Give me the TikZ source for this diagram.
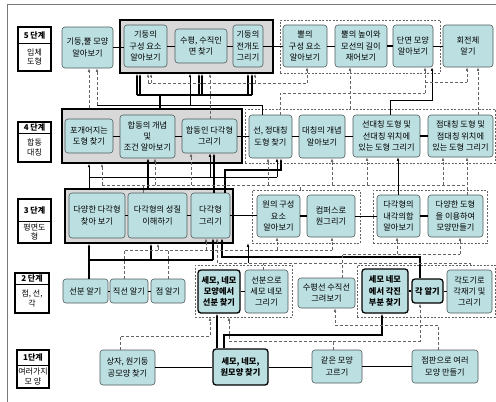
\documentclass[tikz,border=0pt]{standalone}
\usepackage{fontspec}
\setmainfont{Noto Sans CJK KR}
\usetikzlibrary{arrows.meta}
\definecolor{tealfill}{RGB}{188,224,226}
\definecolor{nodeline}{RGB}{80,90,90}
\definecolor{grpfill}{RGB}{216,216,216}
\definecolor{dashline}{RGB}{100,100,100}
\definecolor{frameline}{RGB}{120,120,120}
\newcommand\mybox[7]{%
  \pgfmathsetmacro\cx{(#3+#5)/2}\pgfmathsetmacro\cy{(#4+#6)/2}%
  \pgfmathsetmacro\ww{#5-#3}\pgfmathsetmacro\hh{#6-#4}%
  \node[#1, minimum width=\ww pt, minimum height=\hh pt] (#2) at (\cx,\cy) {#7};}
\tikzset{
  nd/.style={draw=nodeline, fill=tealfill, rounded corners=3pt, line width=0.6pt, align=center, inner sep=0pt, font=\fontsize{8.2}{11.3}\selectfont},
  ndk/.style={nd, draw=black, line width=1.3pt, font=\fontsize{8.2}{11.3}\selectfont\bfseries},
  grp/.style={draw=black, fill=grpfill, line width=1.4pt, inner sep=0pt},
  dgrp/.style={draw=dashline, line width=0.6pt, dash pattern=on 2pt off 1.5pt, inner sep=0pt},
  stg/.style={draw=black, line width=1.5pt, fill=white, inner sep=0pt},
  stxt/.style={align=center, inner sep=0pt, font=\fontsize{8}{9.5}\selectfont},
  link/.style={draw=black, line width=0.6pt},
  tlink/.style={draw=black, line width=1.4pt},
  dlink/.style={draw=dashline, line width=0.6pt, dash pattern=on 3pt off 2pt},
  arr/.style={-{Latex[length=3.5pt,width=2.6pt]}, line width=0.6pt},
  tarr/.style={arr, line width=1.3pt},
  darr/.style={arr, dash pattern=on 3pt off 2pt, draw=dashline},
}
\begin{document}
\begin{tikzpicture}[x=1pt,y=-1pt]
\useasboundingbox (0,0) rectangle (496,402);
\draw[frameline, line width=0.8pt] (7,402) -- (7,4) -- (496,4);

% stage labels
\foreach \n/\ya/\yd/\yb/\xa/\xb/\ta/\tb in {
  5/27/43/71/18/51/{5 단계}/{입체\\도형},
  4/122/133/162/18/51/{4 단계}/{합동\\대칭},
  3/199/221/243/18/51/{3 단계}/{평면도\\형},
  2/273/284/313/15/49/{2 단계}/{점, 선,\\각},
  1/350/365/388/17/49/{1단계}/{여러가지\\모 양}}{
  \mybox{stg}{s\n}{\xa}{\ya}{\xb}{\yb}{}
  \draw[line width=1pt] (\xa,\yd) -- (\xb,\yd);
  \node[stxt, font=\fontsize{8}{9.5}\selectfont\bfseries] (s\n t) at ({(\xa+\xb)/2},{(\ya+\yd)/2}) {\ta};
  \node[stxt] (s\n b) at ({(\xa+\xb)/2},{(\yd+\yb)/2}) {\tb};
}

% groups
\mybox{grp}{g5}{120}{20}{273}{73}{}
\mybox{dgrp}{d5}{280}{20}{440}{73}{}
\mybox{grp}{g4}{62}{109}{242}{163}{}
\mybox{dgrp}{d4}{245}{109}{495}{163}{}
\mybox{grp}{g3}{65}{189}{233}{243}{}
\mybox{dgrp}{d3a}{252}{190}{360}{243}{}
\mybox{dgrp}{d3b}{373}{190}{487}{243}{}
\mybox{dgrp}{d2a}{195}{265}{292}{317}{}
\mybox{dgrp}{d2b}{357}{265}{495}{317}{}

% row 5
\mybox{nd}{a5a}{62}{27}{113}{68}{기둥,뿔 모양\\알아보기}
\mybox{nd}{a5b}{124}{25}{167}{67}{기둥의\\구성 요소\\알아보기}
\mybox{nd}{a5c}{175}{29}{227}{63}{수평, 수직인\\면 찾기}
\mybox{nd}{a5d}{233}{25}{263}{67}{기둥의\\전개도\\그리기}
\mybox{nd}{a5e}{283}{25}{327}{67}{뿔의\\구성 요소\\알아보기}
\mybox{nd}{a5f}{335}{25}{387}{67}{뿔의 높이와\\모선의 길이\\재어보기}
\mybox{nd}{a5g}{393}{25}{433}{67}{단면 모양\\알아보기}
\mybox{nd}{a5h}{443}{25}{493}{67}{회전체\\알기}
% row 4
\mybox{nd}{b4a}{65}{119}{113}{153}{포개어지는\\도형 찾기}
\mybox{nd}{b4b}{120}{115}{175}{158}{합동의 개념\\및\\조건 알아보기}
\mybox{nd}{b4c}{182}{119}{237}{153}{합동인 다각형\\그리기}
\mybox{nd}{b4d}{249}{115}{292}{158}{선, 정대칭\\도형 찾기}
\mybox{nd}{b4e}{299}{115}{345}{158}{대칭의 개념\\알아보기}
\mybox{nd}{b4f}{353}{115}{420}{157}{선대칭 도형 및\\선대칭 위치에\\있는 도형 그리기}
\mybox{nd}{b4g}{428}{115}{493}{157}{점대칭 도형 및\\점대칭 위치에\\있는 도형 그리기}
% row 3
\mybox{nd}{c3a}{69}{193}{125}{238}{다양한 다각형\\찾아 보기}
\mybox{nd}{c3b}{128}{193}{187}{238}{다각형의 성질\\이해하기}
\mybox{nd}{c3c}{191}{193}{230}{238}{다각형\\그리기}
\mybox{nd}{c3d}{257}{195}{300}{237}{원의 구성\\요소\\알아보기}
\mybox{nd}{c3e}{307}{195}{355}{237}{컴퍼스로\\원그리기}
\mybox{nd}{c3f}{377}{195}{420}{237}{다각형의\\내각의합\\알아보기}
\mybox{nd}{c3g}{428}{195}{483}{237}{다양한 도형\\을 이용하여\\모양만들기}
% row 2
\mybox{nd}{e2a}{63}{279}{108}{303}{선분 알기}
\mybox{nd}{e2b}{110}{279}{148}{303}{직선 알기}
\mybox{nd}{e2c}{151}{279}{185}{303}{점 알기}
\mybox{ndk}{e2d}{198}{270}{240}{313}{세모, 네모\\모양에서\\선분 찾기}
\mybox{nd}{e2e}{245}{270}{288}{313}{선분으로\\세모 네모\\그리기}
\mybox{nd}{e2f}{298}{278}{355}{308}{수평선 수직선\\그려보기}
\mybox{ndk}{e2g}{362}{269}{408}{313}{세모 네모\\에서 각진\\부분 찾기}
\mybox{ndk}{e2h}{412}{279}{443}{303}{각 알기}
\mybox{nd}{e2i}{447}{270}{492}{313}{각도기로\\각재기 및\\그리기}
% row 1
\mybox{nd}{f1a}{100}{350}{155}{385}{상자, 원기둥\\공모양 찾기}
\mybox{ndk}{f1b}{213}{349}{268}{385}{세모, 네모,\\원모양 찾기}
\mybox{nd}{f1c}{312}{350}{362}{383}{같은 모양\\고르기}
\mybox{nd}{f1d}{412}{350}{478}{383}{점판으로 여러\\모양 만들기}

% inline links
\draw[link] (a5a.east) -- (a5a.east -| a5b.west);
\draw[link] (a5b.east) -- (a5b.east -| a5c.west);
\draw[link] (a5c.east) -- (a5c.east -| a5d.west);
\draw[link] (a5d.east) -- (a5d.east -| a5e.west);
\draw[link] (a5e.east) -- (a5e.east -| a5f.west);
\draw[tlink] (a5f.east) -- (a5f.east -| a5g.west);
\draw[link] (a5g.east) -- (a5g.east -| a5h.west);
\draw[link] (b4a.east) -- (b4a.east -| b4b.west);
\draw[link] (b4b.east) -- (b4b.east -| b4c.west);
\draw[link] (b4c.east) -- (b4c.east -| b4d.west);
\draw[tlink] (b4d.east) -- (b4d.east -| b4e.west);
\draw[link] (b4e.east) -- (b4e.east -| b4f.west);
\draw[tlink] (b4f.east) -- (b4f.east -| b4g.west);
\draw[link] (c3a.east) -- (c3a.east -| c3b.west);
\draw[link] (c3b.east) -- (c3b.east -| c3c.west);
\draw[link] (c3c.east) -- (c3c.east -| c3d.west);
\draw[tlink] (c3d.east) -- (c3d.east -| c3e.west);
\draw[link] (c3e.east) -- (c3e.east -| c3f.west);
\draw[tlink] (c3f.east) -- (c3f.east -| c3g.west);
\draw[link] (e2a.east) -- (e2a.east -| e2b.west);
\draw[link] (e2b.east) -- (e2b.east -| e2c.west);
\draw[tlink] (e2d.east) -- (e2d.east -| e2e.west);
\draw[tlink] (e2g.east) -- (e2g.east -| e2h.west);
\draw[link] (e2h.east) -- (e2h.east -| e2i.west);
\draw[link] (f1a.east) -- (f1a.east -| f1b.west);
\draw[link] (f1b.east) -- (f1b.east -| f1c.west);
\draw[link] (f1c.east) -- (f1c.east -| f1d.west);

% ---------- row 1 -> row 2
\draw[tarr] (217,0 |- f1b.north) -- (217,0 |- e2d.south);
\draw[tarr] (224,0 |- f1b.north) -- (224,335) -- (382,335) -- (382,0 |- e2g.south);
\draw[darr] (120,0 |- f1a.north) -- (120,336) -- (210,336) -- (210,0 |- d2a.south);
\draw[darr] (333,0 |- f1c.north) -- (333,341) -- (229,341) -- (229,0 |- d2a.south);
\draw[darr] (333,341) -- (420,341) -- (420,0 |- e2h.south);
\draw[darr] (438,0 |- f1d.north) -- (438,325) -- (335,325) -- (335,0 |- e2f.south);

% ---------- row 2 -> row 3
\draw[tarr] (89,0 |- e2a.north) -- (89,0 |- g3.south);
\draw[tlink] (89,260) -- (213,260);
\draw[tarr] (151,260) -- (151,0 |- g3.south);
\draw[tarr] (213,260) -- (213,0 |- c3c.south);
\draw[tarr] (420,0 |- e2h.north) -- (420,257) -- (222,257) -- (222,0 |- c3c.south);
\draw[dlink] (124,0 |- e2b.north) -- (124,250) -- (332,250);
\draw[dlink] (168,0 |- e2c.north) -- (168,250);
\draw[darr] (158,250) -- (158,0 |- g3.south);
\draw[darr] (206,250) -- (206,0 |- c3c.south);
\draw[darr] (277,250) -- (277,0 |- c3d.south);
\draw[darr] (332,250) -- (332,0 |- c3e.south);
\draw[dlink] (263,0 |- e2e.north) -- (263,263);
\draw[dlink] (470,0 |- d2b.north) -- (470,263) -- (217,263);
\draw[darr] (217,263) -- (217,0 |- c3c.south);
\draw[arr] (248,263) -- (248,0 |- d3a.south);
\draw[dlink] (342,0 |- e2f.north) -- (342,254) -- (460,254);
\draw[darr] (460,254) -- (460,0 |- c3g.south);
\draw[darr] (397,254) -- (397,0 |- c3f.south);

% ---------- row 3 -> row 4
\draw[arr] (89,0 |- g3.north) -- (89,0 |- g4.south);
\draw[link] (89,177) -- (277,177);
\draw[arr] (210,177) -- (210,0 |- b4c.south);
\draw[arr] (277,177) -- (277,0 |- b4d.south);
\draw[tarr] (148,0 |- g3.north) -- (148,0 |- b4b.south);
\draw[tarr] (214,0 |- c3c.north) -- (214,0 |- b4c.south);
\draw[tarr] (225,0 |- c3c.north) -- (225,170) -- (281,170) -- (281,0 |- b4d.south);
\draw[dlink] (143,0 |- c3b.north) -- (143,185);
\draw[dlink] (102,185) -- (467,185);
\draw[darr] (102,185) -- (102,0 |- g4.south);
\draw[darr] (155,185) -- (155,0 |- b4b.south);
\draw[darr] (191,185) -- (191,0 |- b4c.south);
\draw[darr] (268,185) -- (268,0 |- b4d.south);
\draw[darr] (332,185) -- (332,0 |- b4e.south);
\draw[darr] (367,185) -- (367,0 |- b4f.south);
\draw[darr] (443,185) -- (443,0 |- b4g.south);
\draw[dlink] (300,0 |- d3a.north) -- (300,185);
\draw[arr] (398,0 |- c3f.north) -- (398,0 |- b4f.south);
\draw[darr] (467,0 |- c3g.north) -- (467,0 |- b4g.south);

% ---------- row 4 -> row 5
\draw[darr] (89,0 |- g4.north) -- (89,0 |- a5a.south);
\draw[link] (262,0 |- b4d.north) -- (262,105) -- (97,105);
\draw[darr] (97,105) -- (97,0 |- a5a.south);
\draw[arr] (190,105) -- (190,0 |- g5.south);
\draw[tlink] (160,0 |- g4.north) -- (160,95);
\draw[tlink] (137,95) -- (252,95);
\draw[tarr] (137,95) -- (137,0 |- g5.south);
\draw[tarr] (140,95) -- (140,0 |- g5.south);
\draw[tarr] (199,95) -- (199,0 |- g5.south);
\draw[tarr] (202,95) -- (202,0 |- g5.south);
\draw[tarr] (248,95) -- (248,0 |- g5.south);
\draw[tarr] (252,95) -- (252,0 |- g5.south);
\draw[dlink] (210,0 |- b4c.north) -- (210,83);
\draw[dlink] (148,83) -- (307,83);
\draw[darr] (148,83) -- (148,0 |- g5.south);
\draw[darr] (151,83) -- (151,0 |- g5.south);
\draw[darr] (210,83) -- (210,0 |- g5.south);
\draw[darr] (255,83) -- (255,0 |- g5.south);
\draw[darr] (307,83) -- (307,0 |- a5e.south);
\draw[darr] (350,0 |- d4.north) -- (350,0 |- a5f.south);
\draw[arr] (390,0 |- b4f.north) -- (390,100) -- (432,100) -- (432,0 |- a5g.south);
\draw[dlink] (280,0 |- b4d.north) -- (280,93) -- (425,93);
\draw[darr] (425,93) -- (425,0 |- a5g.south);
\draw[dlink] (425,82) -- (467,82);
\draw[darr] (467,82) -- (467,0 |- a5h.south);
\draw[darr] (478,0 |- b4g.north) -- (478,0 |- a5h.south);
\end{tikzpicture}
\end{document}
